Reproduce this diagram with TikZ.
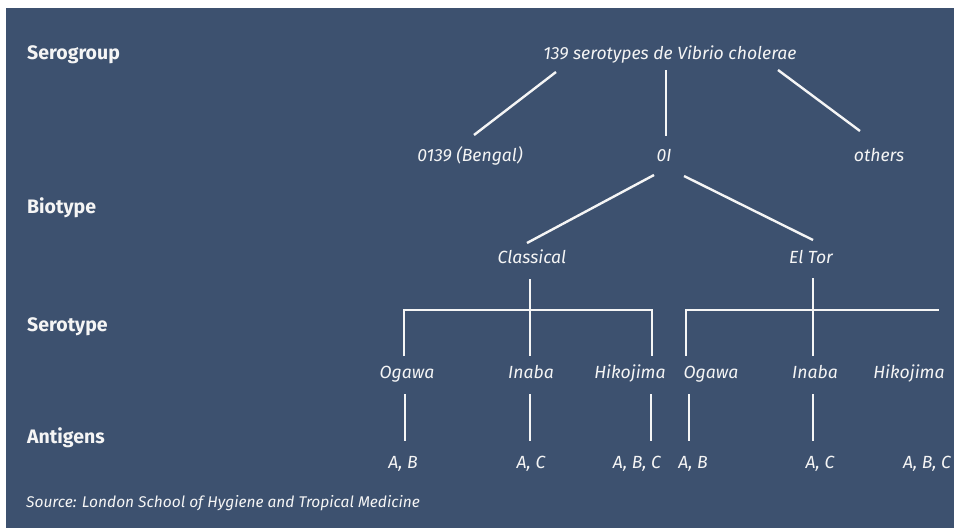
\documentclass[tikz,border=0pt]{standalone}
\usepackage{fontspec}
\setmainfont{Fira Sans}
\definecolor{bgblue}{RGB}{61,81,111}
\definecolor{ink}{RGB}{245,245,245}

\begin{document}
\begin{tikzpicture}
[x=1pt,y=-1pt,%
  every node/.style={text=ink,inner sep=0pt,anchor=base,font=\itshape\fontsize{17.6}{20}\selectfont},%
  level/.style={anchor=base west,font=\bfseries\fontsize{19.5}{22}\selectfont},%
  link/.style={draw=ink,line width=2.4pt}]
\useasboundingbox (0,0) rectangle (954,528);
\fill[bgblue] (6,8) rectangle (954,528);

% row labels
\node[level] (serogroup) at (27,59) {Serogroup};
\node[level] (biotype)   at (27,213) {Biotype};
\node[level] (serotype)  at (27,331) {Serotype};
\node[level] (antigens)  at (27,443) {Antigens};

% tree
\node (title)  at (670,59)  {139 serotypes de Vibrio cholerae};
\node (bengal) at (470,161) {0139 (Bengal)};
\node (oI)     at (664,161) {0I};
\node (others) at (879,161) {others};
\node (classical) at (532,263) {Classical};
\node (eltor)     at (811,263) {El Tor};
\node (ogawaC) at (407,378) {Ogawa};
\node (inabaC) at (531,378) {Inaba};
\node (hikoC)  at (630,378) {Hikojima};
\node (ogawaE) at (711,378) {Ogawa};
\node (inabaE) at (815,378) {Inaba};
\node (hikoE)  at (909,378) {Hikojima};
\node (abC)  at (403,468) {A, B};
\node (acC)  at (531,468) {A, C};
\node (abcC) at (637,468) {A, B, C};
\node (abE)  at (693,468) {A, B};
\node (acE)  at (820,468) {A, C};
\node (abcE) at (927,468) {A, B, C};
\coordinate (eltorend) at (939,310);

\node[anchor=base west,font=\itshape\fontsize{15.5}{18}\selectfont] (source) at (26,507)
  {Source: London School of Hygiene and Tropical Medicine};

% serogroup links
\draw[link] ([xshift=-114pt,yshift=-13pt]title.base) -- ([xshift=4pt,yshift=26pt]bengal.base);
\draw[link] ([xshift=-4pt,yshift=-11pt]title.base) -- ([xshift=2pt,yshift=25pt]oI.base);
\draw[link] ([xshift=108pt,yshift=-11pt]title.base) -- ([xshift=-19pt,yshift=30pt]others.base);
% biotype links
\draw[link] ([xshift=-10pt,yshift=-14pt]oI.base) -- ([xshift=-5pt,yshift=20pt]classical.base);
\draw[link] ([xshift=20pt,yshift=-15pt]oI.base) -- ([xshift=2pt,yshift=23pt]eltor.base);
% serotype brackets
\draw[link] ([xshift=-2pt,yshift=-16pt]classical.base) -- ([xshift=-1pt,yshift=22pt]inabaC.base);
\draw[link] ([xshift=-3pt,yshift=22pt]ogawaC.base) |- ([xshift=22pt,yshift=68pt]hikoC.base)
  -- ([xshift=22pt,yshift=22pt]hikoC.base);
\draw[link] ([xshift=2pt,yshift=-15pt]eltor.base) -- ([xshift=-2pt,yshift=22pt]inabaE.base);
\draw[link] ([xshift=-25pt,yshift=22pt]ogawaE.base) |- (eltorend);
% antigen links
\draw[link] ([xshift=-2pt,yshift=-16pt]ogawaC.base) -- ([xshift=2pt,yshift=27pt]abC.base);
\draw[link] ([xshift=-1pt,yshift=-16pt]inabaC.base) -- ([xshift=-1pt,yshift=27pt]acC.base);
\draw[link] ([xshift=21pt,yshift=-16pt]hikoC.base) -- ([xshift=14pt,yshift=27pt]abcC.base);
\draw[link] ([xshift=-22pt,yshift=-16pt]ogawaE.base) -- ([xshift=-4pt,yshift=27pt]abE.base);
\draw[link] ([xshift=-2pt,yshift=-16pt]inabaE.base) -- ([xshift=-7pt,yshift=27pt]acE.base);
\end{tikzpicture}
\end{document}
